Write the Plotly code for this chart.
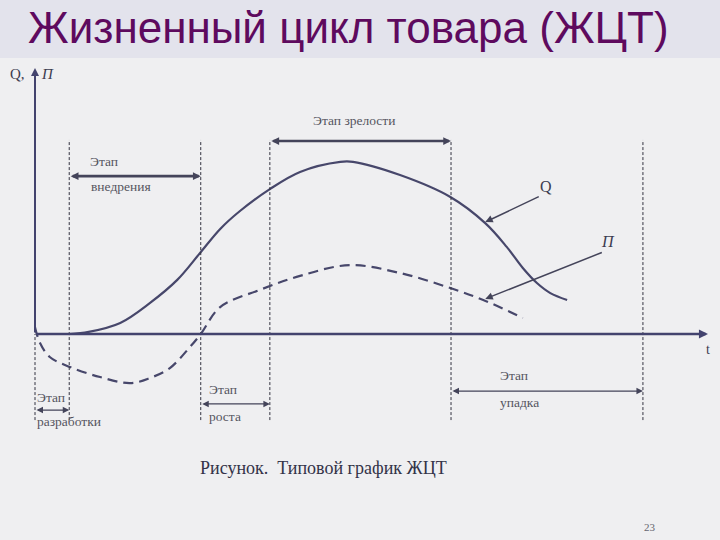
import plotly.graph_objects as go

# ---------------- data (t = time units 0..100, v = value units) ----------------
q_t = [5.1, 8.0, 12.7, 17.1, 21.2, 24.6, 27.6, 30.5, 35.0, 39.5, 45.5, 47.4,
       54.4, 61.9, 67.1, 70.3, 72.7, 74.8, 76.8, 79.3]
q_v = [0.0, 0.8, 4.2, 11.7, 20.5, 30.7, 39.8, 46.5, 54.9, 61.4, 65.2, 65.2,
       60.2, 51.9, 42.0, 33.0, 25.0, 19.3, 15.5, 12.9]

p_t = [0.0, 0.75, 2.2, 5.2, 9.7, 14.2, 17.1, 20.1, 23.1, 24.7, 27.6, 33.5,
       39.5, 46.9, 54.4, 61.9, 66.8, 72.7]
p_v = [2.6, -3.4, -8.7, -12.5, -16.3, -18.6, -16.7, -12.9, -4.9, 0.0, 10.2, 16.7,
       22.0, 26.1, 23.1, 17.4, 12.9, 6.1]

# stage boundaries on the t axis
bounds_t = [0.0, 5.1, 24.7, 35.0, 62.0, 90.6]
bound_top = 73.5
bound_bottom = -32.6

# stage labels: (text, t_left, t_right, arrow level, label1 level, label2 level)
stages_upper = [
    ("Этап", "внедрения", 5.1, 24.7, 59.8, 65.5, 55.7),
]
stage_maturity = ("Этап зрелости", 35.0, 62.0, 73.1, 80.7)
stages_lower = [
    ("Этап", "разработки", 0.0, 5.1, -28.8, -24.2, -33.3),
    ("Этап", "роста", 24.7, 35.0, -26.5, -21.2, -31.1),
    ("Этап", "упадка", 62.0, 90.6, -21.6, -15.9, -25.8),
]

# pointer labels (label pos, arrow tail, arrow head)
q_label = dict(text="Q", t=76.1, v=56.0, tail=(75.3, 52.3), head=(67.1, 42.4))
p_label = dict(text="<i>П</i>", t=85.4, v=35.2, tail=(84.7, 31.1), head=(67.1, 13.3))

X_RANGE = [-5.216, 102.086]
Y_RANGE = [-78.03, 126.52]

LINE = "#47476b"
AXIS = "#43436e"
TXT = "#55555f"
SERIF = "Liberation Serif, Times New Roman, serif"

fig = go.Figure()

# curves
fig.add_trace(go.Scatter(x=q_t, y=q_v, mode="lines", line=dict(color=LINE, width=2.2, shape="spline"),
                         hoverinfo="skip", showlegend=False))
fig.add_trace(go.Scatter(x=p_t, y=p_v, mode="lines",
                         line=dict(color=LINE, width=2.2, shape="spline", dash="10px,6px"),
                         hoverinfo="skip", showlegend=False))

shapes = []
# title band
shapes.append(dict(type="rect", xref="paper", yref="paper", x0=0, x1=1, y0=1 - 58 / 540, y1=1,
                   fillcolor="#e3e3ec", line=dict(width=0), layer="below"))
# vertical dashed boundaries
for i, bt in enumerate(bounds_t):
    top = 0 if i == 0 else bound_top
    shapes.append(dict(type="line", xref="x", yref="y", x0=bt, x1=bt, y0=bound_bottom, y1=top,
                       line=dict(color="#333340", width=1, dash="3px,2px")))
fig.update_layout(shapes=shapes)

ann = []


def arrow(x0, y0, x1, y1, width=1.5, both=False, head=2, size=1.0, color=AXIS):
    ann.append(dict(x=x1, y=y1, ax=x0, ay=y0, xref="x", yref="y", axref="x", ayref="y",
                    text="", showarrow=True, arrowhead=head, startarrowhead=head,
                    arrowsize=size, startarrowsize=size, arrowwidth=width, arrowcolor=color,
                    arrowside="end+start" if both else "end", standoff=0, startstandoff=0))


def label(text, x, y, size=13.5, xanchor="center", color=TXT, font=SERIF):
    ann.append(dict(x=x, y=y, xref="x", yref="y", text=text, showarrow=False,
                    font=dict(family=font, size=size, color=color), xanchor=xanchor, yanchor="middle"))


# axes
arrow(0, 0, 0, 100.8, width=2, head=2, size=0.8)
arrow(0, 0, 100.3, 0, width=2.6, head=2, size=0.7)

# stage arrows and labels
for l1, l2, ta, tb, lv, v1, v2 in stages_upper:
    arrow(ta, lv, tb, lv, width=2.6, both=True, head=2, size=0.6, color="#44445a")
    label(l1, 10.3, v1)
    label(l2, 12.8, v2)
name, ta, tb, lv, v1 = stage_maturity
arrow(ta, lv, tb, lv, width=2.6, both=True, head=2, size=0.6, color="#44445a")
label(name, 47.5, v1)
for l1, l2, ta, tb, lv, v1, v2 in stages_lower:
    arrow(ta, lv, tb, lv, width=1.3, both=True, head=2, size=1.0, color="#44445a")
    label(l1, ta + (0.0 if ta == 0 else 1.0 if tb - ta < 20 else 7.0), v1, xanchor="left")
    label(l2, ta + (0.0 if ta == 0 else 1.0 if tb - ta < 20 else 7.0), v2, xanchor="left")

# Q and П pointers
for d in (q_label, p_label):
    arrow(d["tail"][0], d["tail"][1], d["head"][0], d["head"][1], width=1.5, head=2, size=1.0,
          color="#44445a")
    label(d["text"], d["t"], d["v"], size=16, color="#3c3c50")

# axis names
label("Q,", -2.6, 98.5, size=15, color="#3c3c50")
label("<i>П</i>", 1.8, 98.5, size=15, color="#3c3c50")
label("t", 100.3, -6.0, size=14, color="#3c3c50")

# title, caption, page number
ann.append(dict(x=348 / 720, y=1 - 28 / 540, xref="paper", yref="paper", showarrow=False,
                text="Жизненный цикл товара (ЖЦТ)", xanchor="center", yanchor="middle",
                font=dict(family="Liberation Sans, Arial, sans-serif",
                          size=44, color="#5e0a5e")))
ann.append(dict(x=323 / 720, y=1 - 468 / 540, xref="paper", yref="paper", showarrow=False,
                text="Рисунок.  Типовой график ЖЦТ", xanchor="center", yanchor="middle",
                font=dict(family=SERIF, size=18, color="#333348")))
ann.append(dict(x=650 / 720, y=1 - 527 / 540, xref="paper", yref="paper", showarrow=False,
                text="23", xanchor="center", yanchor="middle",
                font=dict(family=SERIF, size=11, color="#666670")))

fig.update_layout(
    annotations=ann,
    width=720, height=540,
    margin=dict(l=0, r=0, t=0, b=0),
    paper_bgcolor="#efeff1",
    plot_bgcolor="#efeff1",
    xaxis=dict(range=X_RANGE, visible=False, fixedrange=True),
    yaxis=dict(range=Y_RANGE, visible=False, fixedrange=True),
    showlegend=False,
)

fig.write_html("out.html", config={"displayModeBar": False},
               post_script="document.body.style.margin='0';")
